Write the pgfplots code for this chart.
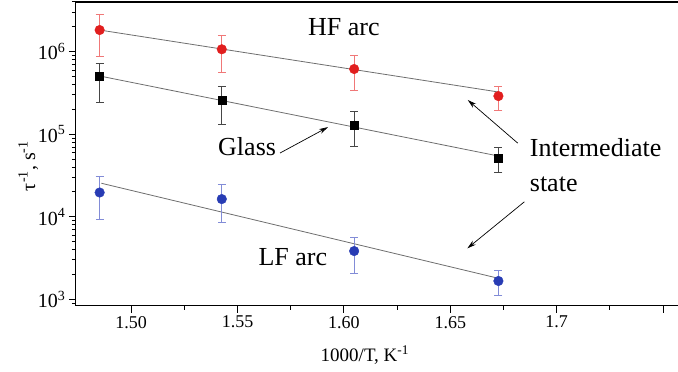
\documentclass[border=0pt]{standalone}
\usepackage{fontspec}
\setmainfont{Liberation Serif}
\usepackage{pgfplots}
\pgfplotsset{compat=1.18}
\usetikzlibrary{arrows.meta}
\definecolor{mred}{RGB}{225,30,30}
\definecolor{mredbar}{RGB}{240,120,120}
\definecolor{mblue}{RGB}{40,60,180}
\definecolor{mbluebar}{RGB}{130,140,215}
\definecolor{mblackbar}{RGB}{70,70,70}
\definecolor{fitgray}{RGB}{110,110,110}
\begin{document}
\begin{tikzpicture}
\begin{axis}[
  scale only axis, width=602pt, height=303.5pt,
  ymode=log,
  xmin=1.474, xmax=1.757, ymin=841, ymax=4.0e6,
  axis lines*=left,
  axis line style={line width=1.3pt},
  xtick={1.50,1.55,1.60,1.65,1.70,1.75},
  xticklabels={1.50,1.55,1.60,1.65,1.7,{}},
  minor x tick num=1,
  ytick={1e3,1e4,1e5,1e6},
  yticklabels={10\textsuperscript{3},10\textsuperscript{4},10\textsuperscript{5},10\textsuperscript{6}},
  minor ytick={900,2000,3000,4000,5000,6000,7000,8000,9000,20000,30000,40000,50000,60000,70000,80000,90000,2e5,3e5,4e5,5e5,6e5,7e5,8e5,9e5,2e6,3e6,4e6},
  tick align=outside, major tick length=7pt, minor tick length=4pt,
  tick style={line width=1pt, black},
  xticklabel style={font=\fontsize{18}{20}\selectfont},
  yticklabel style={font=\fontsize{20}{22}\selectfont},
  xlabel={1000/T, K\textsuperscript{-1}},
  ylabel={τ\textsuperscript{-1}, s\textsuperscript{-1}},
  xlabel style={font=\fontsize{19}{22}\selectfont, at={(axis description cs:0.48,-0.163)}, anchor=center},
  ylabel style={font=\fontsize{20}{22}\selectfont, at={(axis description cs:-0.079,0.46)}, anchor=center, rotate=0},
  clip=false,
]
% fit lines
\addplot[fitgray, line width=0.8pt, no marks] coordinates {(1.4852,1.83e6) (1.6726,3.25e5)};
\addplot[fitgray, line width=0.8pt, no marks] coordinates {(1.4852,5.08e5) (1.6726,5.45e4)};
\addplot[fitgray, line width=0.8pt, no marks] coordinates {(1.4860,2.55e4) (1.6726,1.8e3)};
% HF arc (red)
\addplot[only marks, mark=*, mark size=4.8pt, color=mred,
  error bars/.cd, y dir=both, y explicit,
  error bar style={color=mredbar, line width=0.9pt},
  error mark options={rotate=90, mark size=4pt, color=mredbar, line width=0.9pt}]
  table[x=x, y=y, y error plus=ep, y error minus=em] {
x y ep em
1.4852 1.83e6 0.96e6 0.96e6
1.5426 1.07e6 0.52e6 0.51e6
1.6048 6.17e5 2.78e5 2.74e5
1.6726 2.90e5 0.94e5 0.97e5
};
% Glass (black)
\addplot[only marks, mark=square*, mark size=4pt, color=black,
  error bars/.cd, y dir=both, y explicit,
  error bar style={color=mblackbar, line width=0.9pt},
  error mark options={rotate=90, mark size=4pt, color=mblackbar, line width=0.9pt}]
  table[x=x, y=y, y error plus=ep, y error minus=em] {
x y ep em
1.4852 5.08e5 2.12e5 2.67e5
1.5426 2.60e5 1.17e5 1.28e5
1.6048 1.28e5 0.59e5 0.574e5
1.6726 5.20e4 1.67e4 1.74e4
};
% LF arc (blue)
\addplot[only marks, mark=*, mark size=4.8pt, color=mblue,
  error bars/.cd, y dir=both, y explicit,
  error bar style={color=mbluebar, line width=0.9pt},
  error mark options={rotate=90, mark size=4pt, color=mbluebar, line width=0.9pt}]
  table[x=x, y=y, y error plus=ep, y error minus=em] {
x y ep em
1.4852 1.97e4 1.08e4 1.04e4
1.5426 1.64e4 0.86e4 0.78e4
1.6048 3.85e3 1.75e3 1.78e3
1.6726 1.67e3 0.59e3 0.54e3
};
% top frame line
\draw[line width=1.3pt] (rel axis cs:0,1) -- (rel axis cs:1,1);
% annotations
\node[font=\fontsize{26}{30}\selectfont] at (axis cs:1.600,1.99e6) {HF arc};
\node[font=\fontsize{26}{30}\selectfont] at (axis cs:1.5545,7.0e4) {Glass};
\node[font=\fontsize{26}{30}\selectfont] at (axis cs:1.576,3.28e3) {LF arc};
\node[font=\fontsize{26}{35}\selectfont, align=left, anchor=west, inner sep=0pt] at (axis cs:1.6873,4.18e4) {Intermediate\\state};
\draw[-{Stealth[length=9pt,width=5pt]}, line width=0.7pt] (axis cs:1.570,5.93e4) -- (axis cs:1.5925,1.22e5);
\draw[-{Stealth[length=9pt,width=5pt]}, line width=0.7pt] (axis cs:1.6817,7.8e4) -- (axis cs:1.6582,2.6e5);
\draw[-{Stealth[length=9pt,width=5pt]}, line width=0.7pt] (axis cs:1.6848,1.52e4) -- (axis cs:1.658,4.15e3);
\end{axis}
\pgfresetboundingbox
\path[use as bounding box] ([shift={(-75.8pt,-65.5pt)}]current axis.south west) rectangle ([shift={(0pt,2pt)}]current axis.north east);
\end{tikzpicture}
\end{document}
